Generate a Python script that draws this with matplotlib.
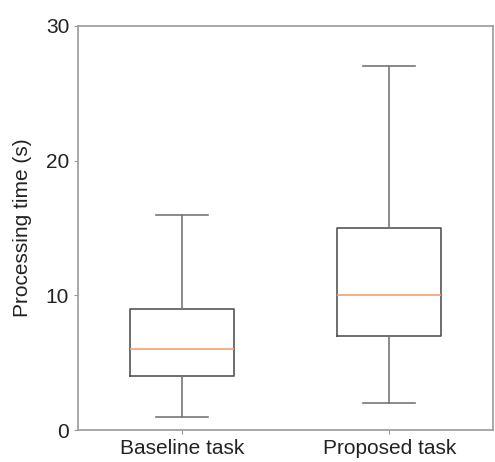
import matplotlib
matplotlib.use('Agg')
import matplotlib.pyplot as plt

# box statistics
labels = ['Baseline task', 'Proposed task']
whislo = [1, 2]
q1 = [4, 7]
med = [6, 10]
q3 = [9, 15]
whishi = [16, 27]

plt.rcParams['font.family'] = ['Liberation Sans', 'DejaVu Sans']

stats = []
for i in range(len(labels)):
    stats.append({'label': labels[i], 'whislo': whislo[i], 'q1': q1[i],
                  'med': med[i], 'q3': q3[i], 'whishi': whishi[i], 'fliers': []})

fig = plt.figure(figsize=(4.95, 4.62), dpi=100)
ax = fig.add_axes([0.158, 0.069, 0.838, 0.875])

ax.bxp(stats, widths=0.5, showfliers=False,
       boxprops=dict(color='#555555', linewidth=1.2),
       whiskerprops=dict(color='#777777', linewidth=1.2),
       capprops=dict(color='#777777', linewidth=1.2),
       medianprops=dict(color='#f5a070', linewidth=1.2))

ax.set_ylim(0, 30)
ax.set_xlim(0.5, 2.5)
ax.set_yticks([0, 10, 20, 30])
ax.set_ylabel('Processing time (s)', fontsize=15, color='#222222', labelpad=10)
for s in ax.spines.values():
    s.set_color('#999999')
    s.set_linewidth(1.2)
ax.tick_params(axis='both', colors='#999999', labelcolor='#222222', labelsize=15, length=3)

fig.savefig('out.png', dpi=100)
